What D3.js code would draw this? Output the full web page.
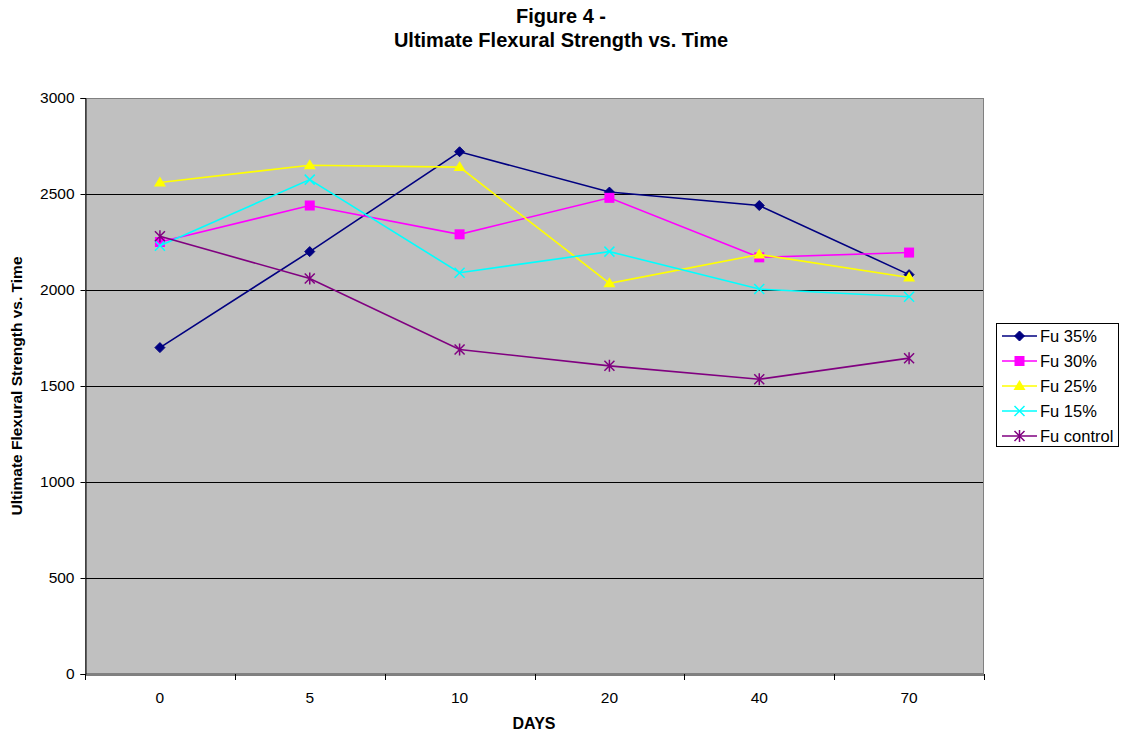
<!DOCTYPE html>
<html><head><meta charset="utf-8">
<script src="https://cdn.jsdelivr.net/npm/d3@7"></script>
<style>body{margin:0;background:#fff;}svg{display:block;font-family:"Liberation Sans",Arial,sans-serif;}</style>
</head><body><svg id="c" width="1122" height="737"></svg>
<script>
const categories = ["0","5","10","20","40","70"];
const seriesNames = ["Fu 35%","Fu 30%","Fu 25%","Fu 15%","Fu control"];
const fu35 = [1700,2200,2720,2510,2440,2080];
const fu30 = [2250,2440,2290,2480,2170,2195];
const fu25 = [2560,2650,2640,2035,2185,2065];
const fu15 = [2230,2575,2090,2200,2005,1965];
const fuControl = [2280,2060,1690,1605,1535,1645];
const yTicks = [0,500,1000,1500,2000,2500,3000];
const colors = ["#000080","#FF00FF","#FFFF00","#00FFFF","#800080"];
const markers = ["diamond","square","triangle","x","star"];
const seriesValues = [fu35,fu30,fu25,fu15,fuControl];
const FF = '"Liberation Sans", Arial, sans-serif';

const svg = d3.select("#c");
const L=85,R=984,T=98,B=674;
const x = d3.scaleBand().domain(categories).range([L,R]);
const y = d3.scaleLinear().domain([0,3000]).range([B,T]);

svg.append("rect").attr("x",L).attr("y",T).attr("width",R-L).attr("height",B-T).attr("fill","#C0C0C0");
svg.append("g").selectAll("line").data(yTicks.filter(d=>d>0)).join("line")
  .attr("x1",L).attr("x2",R).attr("y1",d=>Math.round(y(d))+0.5).attr("y2",d=>Math.round(y(d))+0.5)
  .attr("stroke","#000").attr("stroke-width",1);
svg.append("rect").attr("x",L+0.5).attr("y",T+0.5).attr("width",R-L-1).attr("height",B-T-1).attr("fill","none").attr("stroke","#808080");

const yAxis = svg.append("g").attr("transform",`translate(${L+0.5},0)`)
  .call(d3.axisLeft(y).tickValues(yTicks).tickSize(5).tickPadding(6).tickFormat(d3.format("d")));
yAxis.attr("font-family",FF).attr("font-size",15.5);
yAxis.selectAll("text").attr("fill","#000");
yAxis.selectAll("line,path").attr("stroke","#000");

const xAxis = svg.append("g").attr("transform",`translate(0,${B+0.5})`)
  .call(d3.axisBottom(x).tickSize(0).tickPadding(17));
xAxis.attr("font-family",FF).attr("font-size",15.5);
xAxis.selectAll("text").attr("fill","#000");
xAxis.selectAll("path").attr("stroke","#000");
const bounds = categories.map(c=>x(c)).concat([R]);
svg.append("g").selectAll("line").data(bounds).join("line")
  .attr("x1",d=>Math.round(d)+0.5).attr("x2",d=>Math.round(d)+0.5).attr("y1",B).attr("y2",B+6).attr("stroke","#000");

svg.append("text").attr("x",561).attr("y",23).attr("text-anchor","middle").attr("font-size",20).attr("font-weight","bold").text("Figure 4 -");
svg.append("text").attr("x",561).attr("y",47).attr("text-anchor","middle").attr("font-size",20).attr("font-weight","bold").text("Ultimate Flexural Strength vs. Time");
svg.append("text").attr("x",534).attr("y",729).attr("text-anchor","middle").attr("font-size",16).attr("font-weight","bold").text("DAYS");
svg.append("text").attr("transform",`translate(22,${(T+B)/2}) rotate(-90)`).attr("text-anchor","middle").attr("font-size",15.5).attr("font-weight","bold").text("Ultimate Flexural Strength vs. Time");

function drawMarker(g, type, cx, cy, color){
  if(type==="diamond"){
    g.append("path").attr("d",`M${cx},${cy-5}L${cx+5},${cy}L${cx},${cy+5}L${cx-5},${cy}Z`).attr("fill",color).attr("stroke",color);
  } else if(type==="square"){
    g.append("rect").attr("x",cx-5).attr("y",cy-5).attr("width",10).attr("height",10).attr("fill",color);
  } else if(type==="triangle"){
    g.append("path").attr("d",`M${cx},${cy-6}L${cx+6},${cy+4}L${cx-6},${cy+4}Z`).attr("fill",color);
  } else if(type==="x"){
    g.append("path").attr("d",`M${cx-5},${cy-5}L${cx+5},${cy+5}M${cx-5},${cy+5}L${cx+5},${cy-5}`).attr("stroke",color).attr("stroke-width",1.5);
  } else if(type==="star"){
    g.append("path").attr("d",`M${cx-5},${cy-5}L${cx+5},${cy+5}M${cx-5},${cy+5}L${cx+5},${cy-5}M${cx},${cy-6}L${cx},${cy+6}`).attr("stroke",color).attr("stroke-width",1.5);
  }
}

const line = d3.line().x((d,i)=>x(categories[i])+x.bandwidth()/2).y(d=>y(d));
seriesValues.forEach((vals,si)=>{
  const g = svg.append("g");
  g.append("path").datum(vals).attr("d",line).attr("fill","none").attr("stroke",colors[si]).attr("stroke-width",1.6);
  vals.forEach((v,i)=>drawMarker(g,markers[si],x(categories[i])+x.bandwidth()/2,y(v),colors[si]));
});

const lg = svg.append("g");
lg.append("rect").attr("x",996.5).attr("y",323.5).attr("width",122).attr("height",123).attr("fill","#fff").attr("stroke","#000");
seriesNames.forEach((n,i)=>{
  const ly = 336 + i*25;
  lg.append("line").attr("x1",1002).attr("x2",1037).attr("y1",ly).attr("y2",ly).attr("stroke",colors[i]).attr("stroke-width",1.6);
  drawMarker(lg,markers[i],1019.5,ly,colors[i]);
  lg.append("text").attr("x",1040).attr("y",ly+6).attr("font-size",16.5).text(n);
});
</script></body></html>
